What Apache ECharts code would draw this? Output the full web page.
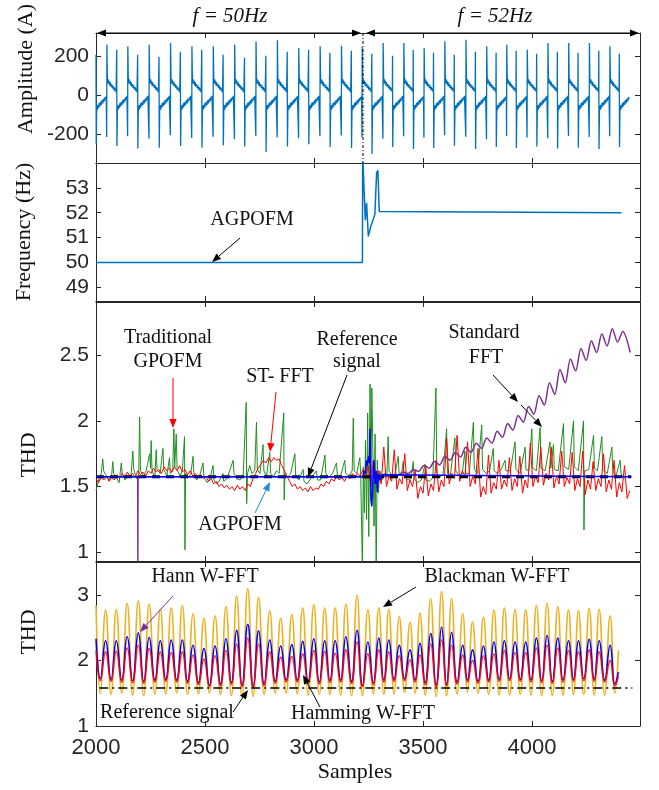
<!DOCTYPE html>
<html><head><meta charset="utf-8">
<script src="https://cdn.jsdelivr.net/npm/echarts@6/dist/echarts.min.js"></script>
<style>html,body{margin:0;padding:0;background:#fff}#c{width:659px;height:790px}</style>
</head><body><div id="c"></div>
<script>
// ================= DATA =================
const xTicks = [2000, 2500, 3000, 3500, 4000];
const ampTicks = [-200, 0, 200];
const freqTicks = [49, 50, 51, 52, 53];
const thdTicks = [1, 1.5, 2, 2.5];
const thd2Ticks = [1, 2, 3];

// Panel 1: current waveform, read per half-cycle (spike positions & heights)
const spikeAx = [2050,2146,2244,2342,2440,2538,2636,2734,2832,2930,3028,3126,3221,3317,3412,3505,3600,3697,3792,3884,3978,4073,4168,4263,4357];
const spikeAup = [256,248,256,265,248,248,256,273,279,240,248,251,245,265,265,240,274,282,248,256,231,265,265,265,248];
const spikeAdown = [-214,-210,-222,-205,-218,-212,-225,-208,-215,-220,-210,-206,-215,-222,-210,-218,-205,-212,-225,-210,-216,-220,-208,-214,-210];
const spikeBx = [2001,2096,2192,2290,2388,2486,2584,2682,2780,2878,2976,3074,3172,3266,3361,3456,3549,3644,3741,3836,3928,4022,4117,4212,4307,4401];
const spikeBup = [205,231,205,195,220,231,205,190,200,220,231,215,225,210,200,230,215,205,220,215,225,210,220,215,225,210];
const spikeBdown = [-250,-260,-272,-268,-260,-268,-255,-262,-290,-262,-250,-265,-270,-300,-265,-275,-270,-258,-275,-265,-270,-262,-272,-268,-275,-265];
// shape between spikes (offset in samples, amplitude)
const posHalfShape = [[2,92],[4,58],[6,80],[8,60],[10,72],[13,48],[15,66],[18,44],[21,56],[24,36],[27,50],[30,28],[33,40],[36,22],[39,34],[42,14]];
const negHalfShape = [[2,-84],[4,-52],[6,-74],[9,-50],[11,-66],[14,-40],[17,-58],[20,-34],[23,-50],[27,-26],[30,-42],[34,-18],[37,-32],[41,-10],[44,-22],[46,-4]];
const waveEnd = 4445;

// Panel 2: AGPOFM frequency
const freqX = [2000,3222,3223,3228,3232,3235,3241,3249,3262,3274,3279,3287,3293,3299,4410];
const freqY = [50,50,54.5,53.2,52.4,51.7,52.4,51.05,51.5,51.8,51.95,53.6,53.7,52.05,52];

// Panel 3
const refX = [2000, 4455];
const refY = [1.575, 1.575];
const agX = [2000,3225,3230,3236,3240,3244,3250,3254,3257,3261,3265,3270,3275,3280,3285,3290,3296,3302,3310,3318,4455];
const agY = [1.575,1.575,1.62,1.60,1.70,1.66,1.73,1.68,1.94,1.40,1.35,1.55,1.70,1.52,1.62,1.46,1.60,1.55,1.59,1.575,1.575];
const stdX = [2000,2191,2192,2193,3300,3312,3336,3360,3384,3408,3432,3456,3480,3504,3528,3552,3576,3600,3624,3648,3672,3696,3720,3744,3768,3792,3816,3840,3864,3888,3912,3936,3960,3984,4008,4032,4056,4080,4104,4128,4152,4176,4200,4224,4248,4272,4296,4320,4344,4368,4392,4416,4450];
const stdY = [1.575,1.575,0.9,1.575,1.575,1.58,1.575,1.59,1.585,1.61,1.60,1.63,1.615,1.66,1.64,1.69,1.665,1.73,1.70,1.76,1.725,1.80,1.76,1.83,1.79,1.87,1.83,1.92,1.875,1.98,1.93,2.04,1.99,2.11,2.05,2.19,2.12,2.29,2.20,2.39,2.29,2.47,2.38,2.55,2.46,2.61,2.52,2.66,2.57,2.70,2.60,2.68,2.52];
const gpofmPts = [[2000,1.47],[2012,1.55],[2024,1.6],[2031,1.71],[2035,1.62],[2048,1.58],[2060,1.55],[2072,1.59],[2077,1.69],[2081,1.6],[2094,1.57],[2106,1.53],[2116,1.68],[2120,1.6],[2133,1.55],[2146,1.58],[2160,1.57],[2169,1.77],[2173,1.63],[2186,1.56],[2196,1.6],[2200,2.03],[2204,1.62],[2218,1.58],[2230,1.62],[2246,1.75],[2250,1.64],[2253,1.85],[2257,1.62],[2270,1.57],[2276,1.78],[2280,1.63],[2294,1.6],[2307,1.79],[2311,1.63],[2325,1.58],[2337,1.72],[2341,1.6],[2352,1.62],[2357,1.94],[2361,1.65],[2368,1.9],[2372,1.63],[2385,1.58],[2396,1.62],[2406,1.88],[2408,1.02],[2411,1.6],[2425,1.57],[2435,1.6],[2445,1.73],[2449,1.6],[2462,1.55],[2475,1.58],[2491,1.68],[2495,1.57],[2510,1.53],[2522,1.56],[2537,1.66],[2541,1.55],[2555,1.52],[2568,1.55],[2582,1.6],[2586,1.54],[2600,1.56],[2613,1.62],[2629,1.70],[2633,1.6],[2645,1.56],[2660,1.55],[2675,1.58],[2689,2.14],[2691,1.37],[2695,1.6],[2705,1.66],[2715,1.6],[2728,1.62],[2736,1.99],[2740,1.63],[2752,1.6],[2766,1.82],[2770,1.62],[2782,1.58],[2797,1.76],[2801,1.6],[2815,1.58],[2828,1.62],[2840,1.6],[2861,2.06],[2863,1.40],[2867,1.6],[2880,1.57],[2893,1.6],[2912,1.75],[2916,1.58],[2930,1.55],[2950,1.63],[2954,1.54],[2968,1.52],[2985,1.56],[3011,1.62],[3015,1.55],[3030,1.55],[3050,1.74],[3054,1.6],[3068,1.57],[3085,1.6],[3103,1.68],[3107,1.58],[3120,1.57],[3141,1.70],[3145,1.6],[3160,1.58],[3175,1.62],[3180,2.02],[3184,1.62],[3196,1.6],[3210,1.72],[3214,1.6],
[3222,0.85],[3226,1.65],[3231,1.3],[3236,1.85],[3241,1.25],[3246,2.06],[3251,1.12],[3257,2.28],[3261,1.5],[3265,2.25],[3270,1.75],[3275,1.2],[3280,1.9],[3285,0.85],[3290,1.7],[3295,1.45],[3302,1.62],[3312,1.55],[3322,1.6],
[3334,1.58],[3340,1.88],[3344,1.62],[3358,1.58],[3372,1.6],[3386,1.73],[3390,1.6],[3400,1.58],[3409,1.69],[3413,1.58],[3430,1.55],[3445,1.56],[3455,1.69],[3459,1.56],[3475,1.53],[3492,1.55],[3509,1.67],[3513,1.55],[3530,1.54],[3545,1.57],[3559,2.25],[3563,1.6],[3578,1.57],[3592,1.6],[3608,1.94],[3612,1.6],[3625,1.58],[3646,1.87],[3650,1.62],[3665,1.58],[3680,1.6],[3692,1.77],[3696,1.6],[3712,1.6],[3731,1.99],[3735,1.63],[3750,1.6],[3769,1.97],[3773,1.63],[3790,1.6],[3805,1.62],[3822,1.79],[3826,1.62],[3840,1.6],[3858,1.63],[3876,1.70],[3880,1.62],[3900,1.62],[3922,1.84],[3926,1.63],[3945,1.6],[3968,1.80],[3972,1.63],[3985,1.62],[3999,1.94],[4003,1.64],[4020,1.62],[4037,1.95],[4041,1.64],[4060,1.62],[4082,1.84],[4086,1.64],[4098,1.82],[4102,1.63],[4120,1.62],[4144,1.98],[4148,1.65],[4168,1.63],[4190,2.0],[4194,1.65],[4212,1.62],[4236,2.0],[4238,1.17],[4242,1.62],[4260,1.63],[4282,1.89],[4286,1.64],[4300,1.62],[4320,1.88],[4324,1.63],[4345,1.6],[4366,1.80],[4370,1.62],[4385,1.58],[4404,1.70],[4408,1.6],[4420,1.56],[4435,1.58]];
// ST-FFT sampled every 12 samples from 2000
const stfftStart = 2000, stfftStep = 12;
const stfftY = [
1.56,1.53,1.57,1.55,1.58,1.54,1.57,1.55,1.59,1.56,
1.60,1.57,1.61,1.58,1.60,1.57,1.62,1.59,1.61,1.58,
1.62,1.60,1.64,1.61,1.63,1.60,1.65,1.62,1.64,1.61,
1.65,1.62,1.66,1.61,1.63,1.59,1.62,1.58,1.60,1.57,
1.59,1.56,1.58,1.54,1.56,1.52,1.54,1.50,1.52,1.49,
1.51,1.48,1.50,1.47,1.51,1.48,1.50,1.47,1.52,1.50,
1.56,1.60,1.64,1.67,1.70,1.68,1.72,1.69,1.72,1.70,
1.71,1.66,1.62,1.58,1.54,1.50,1.52,1.48,1.50,1.47,
1.49,1.46,1.50,1.47,1.49,1.48,1.52,1.50,1.54,1.52,
1.56,1.54,1.58,1.55,1.57,1.54,1.58,1.56,1.60,1.57,
1.60,1.58,1.63,1.56,1.66,1.52,1.70,1.55,1.62,1.52,
1.80,1.50,1.58,1.54, 1.78,1.48,1.56,1.52, 1.75,1.47,1.55,1.50, 1.62,1.41,1.50,1.45,
1.66,1.43,1.52,1.47, 1.70,1.46,1.55,1.50, 1.87,1.52,1.60,1.56, 1.89,1.54,1.62,1.58,
1.84,1.50,1.58,1.52, 1.79,1.42,1.50,1.44, 1.74,1.45,1.53,1.48, 1.70,1.48,1.55,1.50,
1.72,1.47,1.56,1.50, 1.73,1.45,1.55,1.49, 1.83,1.50,1.58,1.53, 1.80,1.51,1.60,1.55,
1.80,1.49,1.58,1.52, 1.77,1.50,1.57,1.52, 1.76,1.47,1.56,1.50, 1.77,1.44,1.55,1.48,
1.69,1.47,1.56,1.50, 1.75,1.46,1.55,1.48, 1.70,1.42,1.53,1.46, 1.66,1.41,1.47];

// Panel 4: windowed FFTs, read peak / trough per ripple
const ripPeakX = [2000,2044,2093,2143,2194,2244,2295,2345,2396,2445,2495,2546,2596,2645,2696,2746,2797,2847,2898,2948,2999,3049,3097,3146,3197,3247,3297,3343,3391,3440,3486,3535,3585,3631,3682,3727,3777,3825,3873,3922,3971,4020,4069,4118,4167,4213,4262,4308,4358];
const ripTroughX = [2020,2069,2118,2168,2219,2270,2320,2370,2420,2470,2520,2571,2621,2670,2721,2771,2822,2872,2923,2973,3024,3073,3122,3172,3222,3272,3320,3367,3415,3463,3510,3560,3608,3656,3704,3752,3801,3849,3897,3946,3995,4044,4093,4142,4190,4237,4285,4333,4380];
const ripEndX = 4396;
const blackmanPk = [2.84,2.77,2.78,2.87,2.91,2.86,2.78,2.80,2.84,2.71,2.64,2.68,2.82,2.98,3.09,2.96,2.76,2.64,2.70,2.80,2.85,2.80,2.80,2.86,2.99,2.77,2.80,2.78,2.67,2.58,2.72,2.94,3.05,2.94,2.71,2.59,2.66,2.77,2.80,2.78,2.77,2.84,2.87,2.82,2.77,2.76,2.79,2.78,2.68];
const blackmanTr = [1.49,1.48,1.50,1.47,1.46,1.48,1.49,1.50,1.48,1.49,1.50,1.48,1.46,1.44,1.45,1.48,1.50,1.50,1.49,1.47,1.48,1.48,1.47,1.46,1.46,1.49,1.48,1.49,1.51,1.50,1.47,1.45,1.46,1.49,1.52,1.50,1.48,1.47,1.47,1.48,1.47,1.46,1.46,1.47,1.48,1.48,1.47,1.47,1.50];
const blackmanEnd = 2.15;
const hannPk = [2.33,2.30,2.30,2.36,2.42,2.35,2.30,2.31,2.31,2.23,2.18,2.22,2.33,2.46,2.55,2.45,2.31,2.22,2.24,2.29,2.33,2.30,2.30,2.36,2.46,2.28,2.34,2.31,2.23,2.16,2.26,2.41,2.51,2.43,2.23,2.16,2.22,2.28,2.30,2.28,2.28,2.34,2.38,2.34,2.30,2.30,2.32,2.30,2.23];
const hannTr = [1.72,1.71,1.70,1.69,1.68,1.70,1.71,1.70,1.68,1.66,1.62,1.64,1.66,1.62,1.60,1.64,1.68,1.70,1.70,1.68,1.67,1.69,1.70,1.68,1.62,1.66,1.70,1.71,1.72,1.70,1.66,1.62,1.63,1.67,1.70,1.68,1.70,1.71,1.72,1.71,1.70,1.69,1.68,1.70,1.71,1.72,1.71,1.70,1.64];
const hannEnd = 1.82;
const hammingPk = [2.15,2.13,2.14,2.19,2.23,2.18,2.13,2.12,2.13,2.08,2.02,2.07,2.15,2.25,2.34,2.25,2.13,2.05,2.06,2.10,2.15,2.14,2.11,2.16,2.28,2.10,2.16,2.13,2.07,2.01,2.08,2.25,2.31,2.23,2.08,2.00,2.07,2.10,2.15,2.12,2.12,2.19,2.23,2.19,2.15,2.13,2.16,2.13,2.00];
const hammingTr = [1.69,1.68,1.67,1.66,1.65,1.67,1.68,1.67,1.65,1.63,1.60,1.61,1.63,1.60,1.59,1.61,1.65,1.67,1.67,1.65,1.64,1.66,1.67,1.65,1.60,1.63,1.67,1.68,1.69,1.67,1.63,1.60,1.61,1.64,1.67,1.65,1.67,1.68,1.69,1.68,1.67,1.66,1.65,1.67,1.68,1.69,1.68,1.67,1.61];
const hammingEnd = 1.76;
const ref4X = [2015, 4460];
const ref4Y = [1.58, 1.58];

// ================= BUILD =================
function zip(xs, ys){ return xs.map((x,i)=>[x, ys[i]]); }
function waveform(){
  const ev = [];
  spikeAx.forEach((x,i)=>ev.push({x, t:'A', i}));
  spikeBx.forEach((x,i)=>ev.push({x, t:'B', i}));
  ev.sort((a,b)=>a.x-b.x);
  const pts = [];
  ev.forEach(e=>{
    if (e.t==='A'){
      pts.push([e.x-1, spikeAdown[e.i]], [e.x, spikeAup[e.i]]);
      posHalfShape.forEach(([o,v])=>{ if (e.x+o<=waveEnd) pts.push([e.x+o, v]); });
    } else {
      pts.push([Math.max(2000,e.x-1), spikeBup[e.i]], [e.x, spikeBdown[e.i]]);
      negHalfShape.forEach(([o,v])=>{ if (e.x+o<=waveEnd) pts.push([e.x+o, v]); });
    }
  });
  return pts;
}
function ripple(pk, tr, endV){
  const pts = [];
  ripPeakX.forEach((x,i)=>{ pts.push([x, pk[i]]); pts.push([ripTroughX[i], tr[i]]); });
  pts.push([ripEndX, endV]);
  return pts;
}
const stfftPts = stfftY.map((v,i)=>[stfftStart + i*stfftStep, v]);

// ================= CHART =================
const AX = '#262626';
const SANS = '"Liberation Sans", Arial, sans-serif';
const SERIF = '"Liberation Serif", "Times New Roman", serif';
const grids = [
  {left:96, top:33, width:544, height:130},
  {left:96, top:163, width:544, height:138},
  {left:96, top:302, width:544, height:259},
  {left:96, top:562, width:544, height:164}
];
const yDefs = [
  {min:-346, max:316, ticks:ampTicks},
  {min:48.45, max:54, ticks:freqTicks},
  {min:0.934, max:2.904, ticks:thdTicks},
  {min:1, max:3.5, ticks:thd2Ticks}
];
const plain = v => String(v);
const xAxes = [], yAxes = [];
grids.forEach((g,i)=>{
  const common = {type:'value', gridIndex:i, min:2000, max:4495, splitLine:{show:false},
    axisLine:{show:true, onZero:false, lineStyle:{color:AX, width:1}}};
  xAxes.push(Object.assign({}, common, {position:'bottom',
    axisTick:{show:true, inside:true, length:5, customValues:xTicks, lineStyle:{color:AX}},
    axisLabel:{show:i===3, customValues:xTicks, formatter:plain, fontSize:22, color:AX, margin:11, fontFamily:SANS}}));
  xAxes.push(Object.assign({}, common, {position:'top',
    axisTick:{show:true, inside:true, length:5, customValues:xTicks, lineStyle:{color:AX}},
    axisLabel:{show:false}}));
  const yd = yDefs[i];
  const yc = {type:'value', gridIndex:i, min:yd.min, max:yd.max, splitLine:{show:false},
    axisLine:{show:true, onZero:false, lineStyle:{color:AX, width:1}}};
  yAxes.push(Object.assign({}, yc, {position:'left',
    axisTick:{show:true, inside:true, length:5, customValues:yd.ticks, lineStyle:{color:AX}},
    axisLabel:{show:true, customValues:yd.ticks, formatter:plain, fontSize:21, color:AX, margin:7, fontFamily:SANS}}));
  yAxes.push(Object.assign({}, yc, {position:'right',
    axisTick:{show:true, inside:true, length:5, customValues:yd.ticks, lineStyle:{color:AX}},
    axisLabel:{show:false}}));
});
function ser(g, data, color, width, extra){
  return Object.assign({type:'line', xAxisIndex:2*g, yAxisIndex:2*g, data, showSymbol:false, symbol:'none',
    animation:false, clip:true, lineStyle:{color, width}}, extra||{});
}
const series = [
  ser(0, waveform(), '#0072BD', 1.3),
  ser(1, zip(freqX, freqY), '#0072BD', 1.5),
  ser(2, gpofmPts, '#1f8f1f', 1),
  ser(2, stfftPts, '#ff0000', 1),
  ser(2, zip(stdX, stdY), '#7E2F8E', 1.5, {smooth:0.3}),
  ser(2, zip(refX, refY), '#000000', 3, {lineStyle:{color:'#000', width:3, type:[8,6]}}),
  ser(2, zip(agX, agY), '#0000ff', 1.5),
  ser(3, ripple(blackmanPk, blackmanTr, blackmanEnd), '#EDB120', 1.6, {smooth:0.5}),
  ser(3, ripple(hannPk, hannTr, hannEnd), '#0000ff', 1.6, {smooth:0.5}),
  ser(3, ripple(hammingPk, hammingTr, hammingEnd), '#ff0000', 1.6, {smooth:0.5, lineStyle:{color:'rgba(255,0,0,0.85)', width:1.6}}),
  ser(3, zip(ref4X, ref4Y), '#000', 1.6, {lineStyle:{color:'#000', width:1.6, type:[9,4,2,4]}})
];

// ---- annotations ----
function arrow(x1,y1,x2,y2,color,w){
  const a = Math.atan2(y2-y1, x2-x1), L = 9, W = 3.6;
  const bx = x2 - L*Math.cos(a), by = y2 - L*Math.sin(a);
  const px = -Math.sin(a)*W, py = Math.cos(a)*W;
  return [
    {type:'line', z:100, shape:{x1, y1, x2:bx, y2:by}, style:{stroke:color, lineWidth:w||1}},
    {type:'polygon', z:100, shape:{points:[[x2,y2],[bx+px,by+py],[bx-px,by-py]]}, style:{fill:color}}
  ];
}
function txt(t, x, y, size, opts){
  const o = opts || {};
  return {type:'text', z:100, x, y, rotation:o.rot||0,
    style:{text:t, textAlign:'center', textVerticalAlign:'middle', fill:'#111',
      font:(o.italic?'italic ':'') + size + 'px ' + SERIF}};
}
const graphic = [].concat(
  txt('f = 50Hz', 230, 16, 21, {italic:true}),
  txt('f = 52Hz', 495, 16, 21, {italic:true}),
  arrow(230,33,97,33,'#000'), arrow(230,33,361,33,'#000'),
  arrow(495,33,366,33,'#000'), arrow(495,33,639,33,'#000'),
  [{type:'line', z:100, shape:{x1:363,y1:33,x2:363,y2:163}, style:{stroke:'#000', lineWidth:1, lineDash:[3,2,1,2]}}],
  txt('Amplitude (A)', 26, 69, 22, {rot:Math.PI/2}),
  txt('Frequency (Hz)', 24, 232, 22, {rot:Math.PI/2}),
  txt('THD', 29, 455, 22, {rot:Math.PI/2}),
  txt('THD', 29, 632, 22, {rot:Math.PI/2}),
  txt('Samples', 355, 772, 22),
  txt('AGPOFM', 252, 220, 20), arrow(240,238,212,262,'#000'),
  txt('Traditional', 168, 338, 20), txt('GPOFM', 168, 362, 20), arrow(173,378,173,428,'#ff0000'),
  txt('ST- FFT', 280, 377, 20), arrow(276,392,270,452,'#ff0000'),
  txt('Reference', 357, 340, 20), txt('signal', 357, 362, 20), arrow(347,375,308,477,'#000'),
  txt('Standard', 484, 333, 20), txt('FFT', 486, 358, 20),
  arrow(493,375,518,402,'#000'), arrow(521,405,542,427,'#000'),
  txt('AGPOFM', 240, 525, 20), arrow(255,513,270,482,'#1F8FD8'),
  txt('Hann W-FFT', 205, 577, 20), arrow(173,596,140,632,'#7030A0'),
  txt('Blackman W-FFT', 497, 577, 20), arrow(416,587,383,607,'#000'),
  txt('Reference signal', 167, 713, 20), arrow(233,712,248,690,'#000'),
  txt('Hamming W-FFT', 363, 714, 20), arrow(320,707,303,675,'#000')
);

const chart = echarts.init(document.getElementById('c'), null, {renderer:'canvas'});
chart.setOption({animation:false, backgroundColor:'#fff', grid:grids, xAxis:xAxes, yAxis:yAxes, series, graphic});
</script></body></html>
